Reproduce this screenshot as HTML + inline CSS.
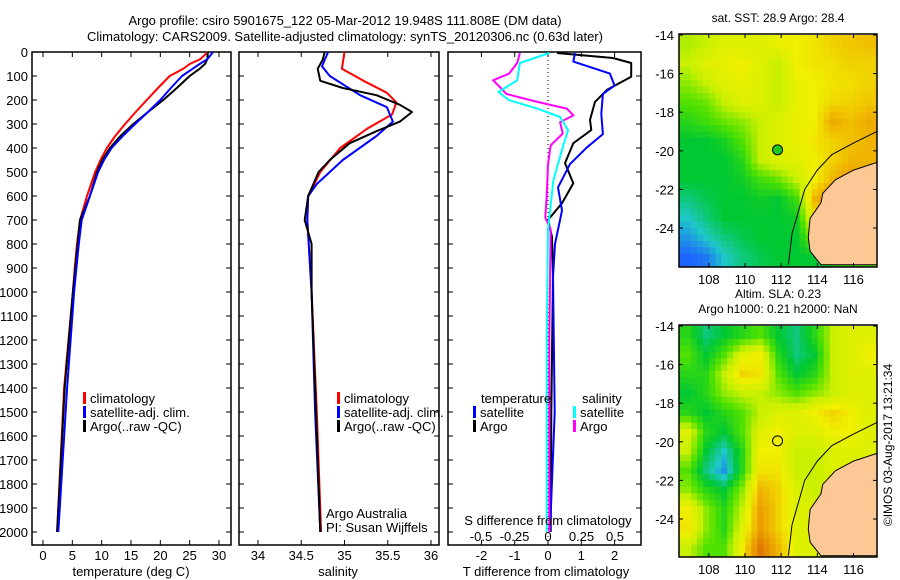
<!DOCTYPE html>
<html><head><meta charset="utf-8"><style>
html,body{margin:0;padding:0;background:#fff;}
svg{display:block;font-family:"Liberation Sans",sans-serif;}
</style></head><body>
<svg id="fig" width="900" height="580" viewBox="0 0 900 580">
<text x="345" y="25" font-size="13" text-anchor="middle">Argo profile: csiro 5901675_122 05-Mar-2012 19.948S 111.808E (DM data)</text>
<text x="345" y="41" font-size="13" text-anchor="middle">Climatology: CARS2009. Satellite-adjusted climatology: synTS_20120306.nc (0.63d later)</text>
<g id="p1"></g>
<g id="p2"></g>
<g id="p3"></g>
<g id="m1"></g>
<g id="m2"></g>
<text transform="translate(892,445) rotate(-90)" font-size="12" text-anchor="middle">©IMOS 03-Aug-2017 13:21:34</text>
</svg>
<script>
// ---------- data ----------
const tDepth = [0,30,50,70,100,150,200,250,300,350,400,450,500,600,700,800,900,1000,1400,2000];
const tArgo  = [28.1,28.0,27.6,26.7,25,22.8,20.5,17.9,15.4,13.2,11.4,10.1,9.2,8,6.3,5.9,5.5,5.1,3.7,2.4];
const tClim  = [28.1,26.8,25,23.9,21.6,19.6,17.7,15.8,14,12.3,10.9,9.8,8.9,7.5,6.3,5.8,5.4,5.1,3.6,2.4];
const tSat   = [29,28,26.7,25.5,23.7,21.8,20,17.9,15.7,13.6,11.7,10.4,9.4,8,6.6,6.1,5.7,5.3,4.1,2.6];

const sDepthArgo = [0,30,70,120,150,180,220,250,290,330,380,450,500,600,700,800,1000,1500,2000];
const sArgo = [34.77,34.75,34.69,34.72,34.98,35.37,35.64,35.78,35.64,35.37,35.06,34.83,34.70,34.58,34.54,34.62,34.62,34.67,34.72];
const sDepthClim = [0,70,120,170,210,260,320,400,500,600,700,1000,1500,2000];
const sClim = [35.0,34.97,35.22,35.49,35.6,35.55,35.26,34.95,34.72,34.58,34.57,34.62,34.68,34.73];
const sDepthSat = [0,60,100,180,230,290,350,450,550,600,700,1000,1500,2000];
const sSat = [34.81,34.74,34.83,35.18,35.49,35.56,35.37,34.98,34.68,34.58,34.57,34.62,34.66,34.72];

const dtDepthArgo = [4,25,46,103,158,208,283,325,380,463,547,630,700,770,936,1500,2000];
const dtArgo = [0.27,1.95,2.5,2.5,1.77,1.41,1.26,1.3,0.76,0.51,0.76,0.42,0,0.12,0.15,0.1,0.08];
const dtDepthSat = [4,40,90,140,175,258,342,397,467,564,661,800,936,1500,2000];
const dtSat = [0.81,0.76,1.86,2.0,1.65,1.6,1.65,1.17,0.66,0.3,0.42,0.21,0.15,0.2,0.06];
const dsDepthArgo = [4,46,90,118,146,175,208,236,264,292,340,389,467,600,690,740,1200,2000];
const dsArgo = [-0.21,-0.23,-0.29,-0.41,-0.36,-0.31,-0.08,0.14,0.19,0.09,0.11,0.02,0,-0.01,-0.02,0.02,0.01,0.01];
const dsDepthSat = [4,46,118,167,201,236,271,326,397,535,740,1200,2000];
const dsSat = [0.01,-0.21,-0.23,-0.37,-0.29,-0.08,0.09,0.15,0.11,0.04,0,-0.01,-0.01];

const tempTicks = [0,5,10,15,20,25,30];
const salTicks = [34,34.5,35,35.5,36];
const salTickLabels = ["34","34.5","35","35.5","36"];
const dtTicks = [-2,-1,0,1,2];
const dsTicks = [-0.5,-0.25,0,0.25,0.5];
const dsTickLabels = ["-0.5","-0.25","0","0.25","0.5"];
const depthTicks = [0,100,200,300,400,500,600,700,800,900,1000,1100,1200,1300,1400,1500,1600,1700,1800,1900,2000];
const lonTicks = [108,110,112,114,116];
const latTicks = [-14,-16,-18,-20,-22,-24];

const sstGrid = [
[0.48,0.5,0.55,0.55,0.55,0.58,0.6,0.62,0.65,0.67,0.68],
[0.5,0.55,0.58,0.6,0.55,0.5,0.6,0.62,0.63,0.65,0.65],
[0.45,0.5,0.55,0.58,0.55,0.5,0.58,0.6,0.62,0.63,0.65],
[0.4,0.42,0.5,0.55,0.55,0.5,0.58,0.6,0.64,0.65,0.67],
[0.35,0.38,0.42,0.45,0.5,0.55,0.58,0.6,0.72,0.68,0.72],
[0.3,0.3,0.33,0.4,0.5,0.55,0.58,0.62,0.65,0.68,0.7],
[0.3,0.3,0.3,0.35,0.5,0.55,0.56,0.6,0.65,0.7,0.7],
[0.3,0.3,0.3,0.32,0.38,0.42,0.5,0.6,0.7,0.75,0.7],
[0.25,0.28,0.3,0.3,0.32,0.3,0.38,0.7,0.78,0.7,0.7],
[0.2,0.25,0.3,0.3,0.3,0.3,0.32,0.6,0.65,0.6,0.6],
[0.15,0.2,0.25,0.28,0.3,0.3,0.3,0.45,0.5,0.5,0.5],
[0.1,0.12,0.2,0.25,0.28,0.3,0.3,0.3,0.35,0.4,0.4]];
const slaGrid = [
[0.35,0.25,0.3,0.35,0.4,0.3,0.25,0.35,0.5,0.55,0.55],
[0.4,0.3,0.4,0.55,0.6,0.35,0.25,0.3,0.5,0.55,0.6],
[0.35,0.35,0.5,0.65,0.62,0.4,0.3,0.35,0.5,0.55,0.55],
[0.3,0.35,0.45,0.5,0.5,0.45,0.4,0.45,0.5,0.55,0.55],
[0.35,0.3,0.35,0.4,0.5,0.55,0.55,0.6,0.65,0.6,0.55],
[0.55,0.35,0.3,0.4,0.55,0.6,0.55,0.55,0.6,0.6,0.55],
[0.5,0.3,0.2,0.35,0.6,0.6,0.5,0.5,0.55,0.55,0.55],
[0.4,0.25,0.15,0.35,0.62,0.62,0.5,0.5,0.55,0.55,0.55],
[0.45,0.35,0.3,0.45,0.7,0.65,0.55,0.5,0.55,0.55,0.55],
[0.6,0.45,0.35,0.5,0.75,0.65,0.55,0.55,0.55,0.55,0.55],
[0.62,0.45,0.35,0.55,0.75,0.65,0.55,0.55,0.55,0.55,0.55],
[0.5,0.4,0.4,0.6,0.85,0.7,0.55,0.55,0.55,0.55,0.55]];
const landLon = [117.3,116,115,114.3,114.2,113.6,113.5,113.6,114.2,117.3];
const landLat = [-20.6,-21.0,-21.5,-22.2,-22.7,-23.5,-24.5,-25.2,-25.9,-25.9];
const isoLon = [117.3,116,114.8,114,113.3,113,112.6,112.4];
const isoLat = [-19.0,-19.6,-20.2,-21.0,-22.0,-23.0,-24.3,-25.9];
const argoPos = [111.8,-19.95];

// ---------- helpers ----------
const NS="http://www.w3.org/2000/svg";
function mk(parent,tag,attrs,text){const e=document.createElementNS(NS,tag);for(const k in attrs)e.setAttribute(k,attrs[k]);if(text!==undefined)e.textContent=text;parent.appendChild(e);return e;}
const TOP=52,BOT=545;
const yD=d=>TOP+d*0.24;
function lin(d0,d1,r0,r1){return v=>r0+(v-d0)*(r1-r0)/(d1-d0);}

function panelFrame(g,L,R,showDepth){
  const f=mk(g,'rect',{x:L,y:TOP,width:R-L,height:BOT-TOP,fill:'none',stroke:'#000','stroke-width':1.5});
  
  depthTicks.forEach(d=>{
    const y=yD(d);
    mk(g,'line',{x1:L,x2:L+5,y1:y,y2:y,stroke:'#000'});
    mk(g,'line',{x1:R-5,x2:R,y1:y,y2:y,stroke:'#000'});
    if(showDepth){const t=mk(g,'text',{x:L-4,y:y+5,'font-size':13,'text-anchor':'end'},String(d));
      }
  });
}
function xTicks(g,vals,labels,sx,labelY,top,bot){
  vals.forEach((v,i)=>{const x=sx(v);
    if(top)mk(g,'line',{x1:x,x2:x,y1:TOP,y2:TOP+5,stroke:'#000'});
    if(bot)mk(g,'line',{x1:x,x2:x,y1:BOT-5,y2:BOT,stroke:'#000'});
    if(labels){const t=mk(g,'text',{x:x,y:labelY,'font-size':13,'text-anchor':'middle'},labels[i]);
      }
  });
}
function line(g,depths,vals,sx,color,w,name){
  const pts=depths.map((d,i)=>sx(vals[i]).toFixed(1)+','+yD(d).toFixed(1)).join(' ');
  const p=mk(g,'polyline',{points:pts,fill:'none',stroke:color,'stroke-width':w,'stroke-linejoin':'round'});
  
}
function legendEntry(g,x,y,color,label){
  const r=mk(g,'rect',{x:x,y:y-11,width:3,height:12,fill:color});
  
  const t=mk(g,'text',{x:x+7,y:y,'font-size':13},label);
  
}

// ---------- panel 1: temperature ----------
(function(){
  const g=document.getElementById('p1');const sx=lin(0,30,43,219);
  panelFrame(g,32,231,true);
  xTicks(g,tempTicks,tempTicks.map(String),sx,560,true,true);
  line(g,tDepth,tClim,sx,'#f00',2,'temperature-climatology-line');
  line(g,tDepth,tArgo,sx,'#000',2,'temperature-argo-line');
  line(g,tDepth,tSat,sx,'#00f',2,'temperature-satellite-line');
  legendEntry(g,83,403,'#f00','climatology');
  legendEntry(g,83,417,'#00f','satellite-adj. clim.');
  legendEntry(g,83,431,'#000','Argo(..raw -QC)');
  const t=mk(g,'text',{x:131,y:576,'font-size':13,'text-anchor':'middle'},'temperature (deg C)');
  
})();

// ---------- panel 2: salinity ----------
(function(){
  const g=document.getElementById('p2');const sx=lin(34,36,258,431);
  panelFrame(g,239,439,false);
  xTicks(g,salTicks,salTickLabels,sx,560,true,true);
  line(g,sDepthClim,sClim,sx,'#f00',2,'salinity-climatology-line');
  line(g,sDepthSat,sSat,sx,'#00f',2,'salinity-satellite-line');
  line(g,sDepthArgo,sArgo,sx,'#000',2,'salinity-argo-line');
  legendEntry(g,337,403,'#f00','climatology');
  legendEntry(g,337,417,'#00f','satellite-adj. clim.');
  legendEntry(g,337,431,'#000','Argo(..raw -QC)');
  let t=mk(g,'text',{x:326,y:518,'font-size':13},'Argo Australia');
  
  t=mk(g,'text',{x:326,y:532,'font-size':13},'PI: Susan Wijffels');
  
  t=mk(g,'text',{x:338,y:576,'font-size':13,'text-anchor':'middle'},'salinity');
  
})();

// ---------- panel 3: differences ----------
(function(){
  const g=document.getElementById('p3');const sx=lin(0,1,548,581.3);const ss=lin(0,0.5,548,615);
  panelFrame(g,448,641,false);
  xTicks(g,dtTicks,dtTicks.map(String),sx,560,true,true);
  dsTicks.forEach((v,i)=>{const t=mk(g,'text',{x:ss(v),y:541,'font-size':13,'text-anchor':'middle'},dsTickLabels[i]);
    });
  mk(g,'line',{x1:sx(0),x2:sx(0),y1:TOP,y2:BOT,stroke:'#000','stroke-dasharray':'1,3'});
  line(g,dtDepthArgo,dtArgo,sx,'#000',2,'t-diff-argo-line');
  line(g,dtDepthSat,dtSat,sx,'#00f',2,'t-diff-satellite-line');
  line(g,dsDepthArgo,dsArgo,ss,'#f0f',2,'s-diff-argo-line');
  line(g,dsDepthSat,dsSat,ss,'#0ff',2,'s-diff-satellite-line');
  let t=mk(g,'text',{x:481,y:403,'font-size':13},'temperature');
  
  t=mk(g,'text',{x:582,y:403,'font-size':13},'salinity');
  
  legendEntry(g,473,417,'#00f','satellite');
  legendEntry(g,473,431,'#000','Argo');
  legendEntry(g,573,417,'#0ff','satellite');
  legendEntry(g,573,431,'#f0f','Argo');
  t=mk(g,'text',{x:548,y:525,'font-size':13,'text-anchor':'middle'},'S difference from climatology');
  
  t=mk(g,'text',{x:546,y:576,'font-size':13,'text-anchor':'middle'},'T difference from climatology');
  
})();

// ---------- maps ----------
const cstops=[[0.1,[30,100,255]],[0.2,[30,200,200]],[0.3,[0,200,50]],[0.4,[80,225,0]],[0.5,[200,240,0]],[0.6,[240,240,0]],[0.7,[240,180,0]],[0.85,[224,120,0]]];
function cmap(v){
  if(v<=cstops[0][0])return 'rgb('+cstops[0][1]+')';
  for(let i=1;i<cstops.length;i++){if(v<=cstops[i][0]){const a=cstops[i-1],b=cstops[i],f=(v-a[0])/(b[0]-a[0]);
    return 'rgb('+a[1].map((c,k)=>Math.round(c+(b[1][k]-c)*f)).join(',')+')';}}
  return 'rgb('+cstops[cstops.length-1][1]+')';
}
function drawMap(gid,grid,top,bot,titles){
  const g=document.getElementById(gid);
  const L=679,R=877,lon0=106.35,lon1=117.3;
  const sx=lin(lon0,lon1,L,R);const sy=lin(-14,-24,top+1,top+1+193);
  const cid=gid+'clip';
  const cp=mk(g,'clipPath',{id:cid});mk(cp,'rect',{x:L,y:top,width:R-L,height:bot-top});
  const cg=mk(g,'g',{'clip-path':'url(#'+cid+')'});
  const sub=3,nr=grid.length,nc=grid[0].length;
  const val=(r,c)=>{r=Math.max(0,Math.min(nr-1,r));c=Math.max(0,Math.min(nc-1,c));
    const r0=Math.floor(r),c0=Math.floor(c),r1=Math.min(nr-1,r0+1),c1=Math.min(nc-1,c0+1),fr=r-r0,fc=c-c0;
    return grid[r0][c0]*(1-fr)*(1-fc)+grid[r0][c1]*(1-fr)*fc+grid[r1][c0]*fr*(1-fc)+grid[r1][c1]*fr*fc;};
  for(let i=0;i<nr*sub;i++)for(let j=0;j<nc*sub;j++){
    const la=-14-i/sub,lo=lon0+j/sub;
    const c=mk(cg,'rect',{x:sx(lo).toFixed(1),y:sy(la).toFixed(1),width:(18.1/sub+0.6).toFixed(1),height:(19.3/sub+0.6).toFixed(1),fill:cmap(val((i+0.5)/sub-0.5,(j+0.5)/sub-0.5))});
    
    
  }
  const land=mk(cg,'polygon',{points:landLon.map((lo,i)=>sx(lo).toFixed(1)+','+sy(landLat[i]).toFixed(1)).join(' '),fill:'#fcc896',stroke:'#000','stroke-width':1});
  
  const iso=mk(cg,'polyline',{points:isoLon.map((lo,i)=>sx(lo).toFixed(1)+','+sy(isoLat[i]).toFixed(1)).join(' '),fill:'none',stroke:'#000','stroke-width':1});
  
  const fr=mk(g,'rect',{x:L,y:top,width:R-L,height:bot-top,fill:'none',stroke:'#000','stroke-width':1.5});
  
  lonTicks.forEach(lo=>{const x=sx(lo);
    mk(g,'line',{x1:x,x2:x,y1:top,y2:top+4,stroke:'#000'});mk(g,'line',{x1:x,x2:x,y1:bot-4,y2:bot,stroke:'#000'});
    const t=mk(g,'text',{x:x,y:bot+17,'font-size':13,'text-anchor':'middle'},String(lo));
    });
  latTicks.forEach(la=>{const y=sy(la);
    mk(g,'line',{x1:L,x2:L+4,y1:y,y2:y,stroke:'#000'});mk(g,'line',{x1:R-4,x2:R,y1:y,y2:y,stroke:'#000'});
    const t=mk(g,'text',{x:L-5,y:y+5,'font-size':13,'text-anchor':'end'},String(la));
    });
  const pc=mk(g,'circle',{cx:sx(argoPos[0]),cy:sy(argoPos[1]),r:5,fill:gid==='m1'?'#1ec81e':'none',stroke:'#000','stroke-width':1});
  
  titles.forEach((s,i)=>{const t=mk(g,'text',{x:778,y:top-12-(titles.length-1-i)*15,'font-size':12,'text-anchor':'middle'},s);
    });
}
drawMap('m1',sstGrid,34,267,['sat. SST: 28.9 Argo: 28.4']);
drawMap('m2',slaGrid,325,557,['Altim. SLA: 0.23','Argo h1000: 0.21 h2000: NaN']);
</script>
</body></html>
